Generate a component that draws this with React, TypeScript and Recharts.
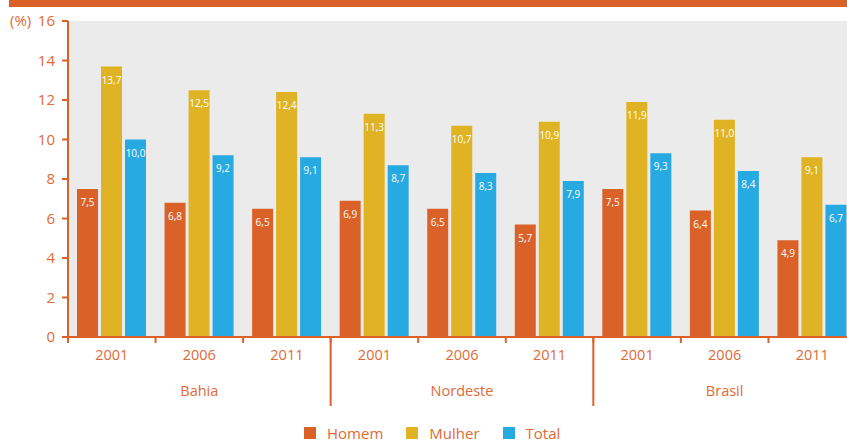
import { BarChart, Bar, XAxis, YAxis, CartesianGrid, Legend, LabelList } from 'recharts';

const regions = ['Bahia', 'Nordeste', 'Brasil'];
const years = ['2001', '2006', '2011'];
const homem = [7.5, 6.8, 6.5, 6.9, 6.5, 5.7, 7.5, 6.4, 4.9];
const mulher = [13.7, 12.5, 12.4, 11.3, 10.7, 10.9, 11.9, 11.0, 9.1];
const total = [10.0, 9.2, 9.1, 8.7, 8.3, 7.9, 9.3, 8.4, 6.7];
const yTicks = [0, 2, 4, 6, 8, 10, 12, 14, 16];

const ORANGE = '#DA6228';
const YELLOW = '#E0B324';
const BLUE = '#27A9E1';
const TEXT = '#E06A35';
const FONT = '"Open Sans", sans-serif';

const series = [
  { key: 'homem', name: 'Homem', color: ORANGE },
  { key: 'mulher', name: 'Mulher', color: YELLOW },
  { key: 'total', name: 'Total', color: BLUE },
];

const data = regions.flatMap((region, i) =>
  years.map((year, j) => ({
    region,
    year,
    homem: homem[i * 3 + j],
    mulher: mulher[i * 3 + j],
    total: total[i * 3 + j],
  }))
);

const CHART_W = 860;
const CHART_H = 443;
const MARGIN = { top: 21, right: 4, left: 0, bottom: 0 };
const Y_W = 68;
const BAND = (CHART_W - Y_W - MARGIN.left - MARGIN.right) / data.length;

const fmt = (v: any) => Number(v).toFixed(1).replace('.', ',');

const YTick = (props: any) => {
  const { x, y, payload } = props;
  return (
    <g>
      <text x={x} y={y + 5} textAnchor="end" fill={TEXT} fontSize={15} fontFamily={FONT}>
        {payload.value}
      </text>
      {payload.value === 16 && (
        <text x={10} y={y + 5} fill={TEXT} fontSize={15} fontFamily={FONT}>
          (%)
        </text>
      )}
    </g>
  );
};

const YearTick = (props: any) => {
  const { x, y, payload } = props;
  const bx = x - BAND / 2;
  return (
    <g>
      <line x1={bx} y1={y} x2={bx} y2={y + 6} stroke={ORANGE} strokeWidth={2} />
      <text x={x} y={y + 23} textAnchor="middle" fill={TEXT} fontSize={14.5} fontFamily={FONT}>
        {payload.value}
      </text>
    </g>
  );
};

const RegionTick = (props: any) => {
  const { x, y, payload, index } = props;
  const bx = x - BAND / 2;
  return (
    <g>
      {index % 3 === 0 && index > 0 && (
        <line x1={bx} y1={y - 40} x2={bx} y2={y + 29} stroke={ORANGE} strokeWidth={2} />
      )}
      {index % 3 === 1 && (
        <text x={x} y={y + 19} textAnchor="middle" fill={TEXT} fontSize={14.5} fontFamily={FONT}>
          {payload.value}
        </text>
      )}
    </g>
  );
};

const LegendContent = () => (
  <div style={{ display: 'flex', alignItems: 'center', height: 16, lineHeight: '16px', paddingLeft: 304, fontFamily: FONT, fontSize: 15, color: TEXT }}>
    {series.map((s) => (
      <div key={s.key} style={{ display: 'flex', alignItems: 'center', marginRight: 23 }}>
        <span style={{ width: 12, height: 12, background: s.color, marginRight: 11, display: 'inline-block' }} />
        <span>{s.name}</span>
      </div>
    ))}
  </div>
);

export default function App() {
  return (
    <div style={{ position: 'absolute', left: 0, top: 0, width: 847, height: 443, overflow: 'hidden', background: '#fff' }}>
      <div style={{ position: 'absolute', left: 9, top: 0, width: 838, height: 7, background: ORANGE }} />
      <BarChart
        width={CHART_W}
        height={CHART_H}
        data={data}
        margin={MARGIN}
        barCategoryGap={9}
        barGap={3}
      >
        <CartesianGrid fill="#EBEBEB" horizontal={false} vertical={false} />
        <XAxis
          dataKey="year"
          height={40}
          interval={0}
          tickSize={0}
          tickMargin={0}
          tickLine={false}
          axisLine={{ stroke: ORANGE, strokeWidth: 2 }}
          tick={<YearTick />}
        />
        <XAxis
          xAxisId="region"
          dataKey="region"
          height={50}
          interval={0}
          tickSize={0}
          tickMargin={0}
          tickLine={false}
          axisLine={false}
          tick={<RegionTick />}
        />
        <YAxis
          width={Y_W}
          domain={[0, 16]}
          ticks={yTicks}
          interval={0}
          tickSize={6}
          tickMargin={7}
          axisLine={{ stroke: ORANGE, strokeWidth: 2 }}
          tickLine={{ stroke: ORANGE, strokeWidth: 2 }}
          tick={<YTick />}
        />
        <Legend verticalAlign="bottom" content={<LegendContent />} wrapperStyle={{ bottom: 2 }} />
        {series.map((s) => (
          <Bar key={s.key} dataKey={s.key} name={s.name} fill={s.color} isAnimationActive={false}>
            <LabelList
              dataKey={s.key}
              position="insideTop"
              offset={10}
              formatter={fmt}
              fill="#FFFFFF"
              fontSize={10}
              fontFamily={FONT}
            />
          </Bar>
        ))}
      </BarChart>
    </div>
  );
}
